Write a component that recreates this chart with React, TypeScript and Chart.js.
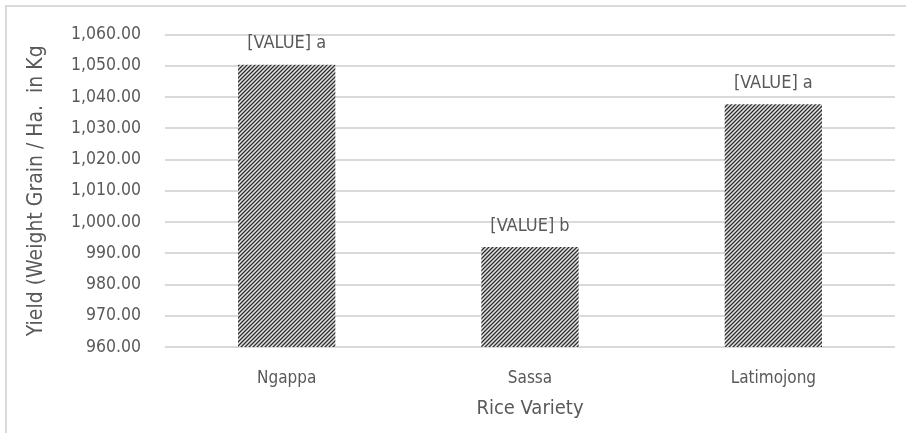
import React, { useEffect, useRef } from "react";
import { Chart, registerables } from "chart.js";

Chart.register(...registerables);

const categories = ["Ngappa", "Sassa", "Latimojong"];
const yieldValues = [1050.3, 992.0, 1037.7];
const valueLabels = ["[VALUE] a", "[VALUE] b", "[VALUE] a"];
const yMin = 960;
const yMax = 1060;
const yStep = 10;
const xTitle = "Rice Variety";
const yTitle = "Yield (Weight Grain / Ha.  in Kg";

const FONT = "'DejaVu Sans Condensed', 'Liberation Sans', sans-serif";
const TEXT = "#595959";

function makePattern(): CanvasPattern | string {
  const c = document.createElement("canvas");
  c.width = 4;
  c.height = 4;
  const g = c.getContext("2d");
  if (!g) return "#808080";
  const shades = ["#8a8a8a", "#e6e6e6", "#9a9a9a", "#2e2e2e"];
  for (let x = 0; x < 4; x++) {
    for (let y = 0; y < 4; y++) {
      g.fillStyle = shades[(x + y) % 4];
      g.fillRect(x, y, 1, 1);
    }
  }
  const p = g.createPattern(c, "repeat");
  return p || "#808080";
}

const labelPlugin = {
  id: "valueLabels",
  afterDatasetsDraw(chart: any) {
    const ctx = chart.ctx;
    const meta = chart.getDatasetMeta(0);
    ctx.save();
    ctx.font = `18px ${FONT}`;
    ctx.fillStyle = TEXT;
    ctx.textAlign = "center";
    ctx.textBaseline = "middle";
    meta.data.forEach((bar: any, i: number) => {
      ctx.fillText(valueLabels[i], bar.x, bar.y - 21);
    });
    ctx.restore();
  },
};

export default function App() {
  const ref = useRef<HTMLCanvasElement>(null);
  useEffect(() => {
    if (!ref.current) return;
    const chart = new Chart(ref.current, {
      type: "bar",
      data: {
        labels: categories,
        datasets: [
          {
            data: yieldValues,
            backgroundColor: makePattern() as any,
            borderWidth: 0,
            categoryPercentage: 1,
            barPercentage: 0.4,
          },
        ],
      },
      options: {
        animation: false,
        responsive: false,
        devicePixelRatio: 1,
        layout: { padding: { left: 0, top: 29, right: 11, bottom: 0 } },
        plugins: {
          legend: { display: false },
          tooltip: { enabled: false },
        },
        scales: {
          x: {
            grid: { display: false, drawTicks: false },
            border: { display: false },
            ticks: { color: TEXT, font: { family: FONT, size: 17 }, padding: 21 },
            title: {
              display: true,
              text: xTitle,
              color: TEXT,
              font: { family: FONT, size: 20 },
              padding: { top: 0, bottom: 12 },
            },
            afterFit(scale: any) {
              scale.height = 86;
            },
          },
          y: {
            min: yMin,
            max: yMax,
            grid: { color: "#d9d9d9", lineWidth: 2, drawTicks: false },
            border: { display: false },
            ticks: {
              stepSize: yStep,
              color: TEXT,
              font: { family: FONT, size: 17.5 },
              padding: 24,
              callback: (v: any) =>
                Number(v).toLocaleString("en-US", { minimumFractionDigits: 2, maximumFractionDigits: 2 }),
            },
            title: {
              display: true,
              text: yTitle,
              color: TEXT,
              font: { family: FONT, size: 21 },
              padding: { top: 24, bottom: 0 },
            },
            afterFit(scale: any) {
              scale.width = 165;
            },
          },
        },
      },
      plugins: [labelPlugin],
    });
    return () => chart.destroy();
  }, []);

  return (
    <div style={{ position: "fixed", left: 0, top: 0, width: 906, height: 433, overflow: "hidden", background: "#fff" }}>
      <canvas ref={ref} width={906} height={433} style={{ display: "block" }} />
      <div
        style={{
          position: "absolute",
          left: 5,
          top: 5,
          width: 940,
          height: 460,
          border: "2px solid #d9d9d9",
          pointerEvents: "none",
        }}
      />
    </div>
  );
}
